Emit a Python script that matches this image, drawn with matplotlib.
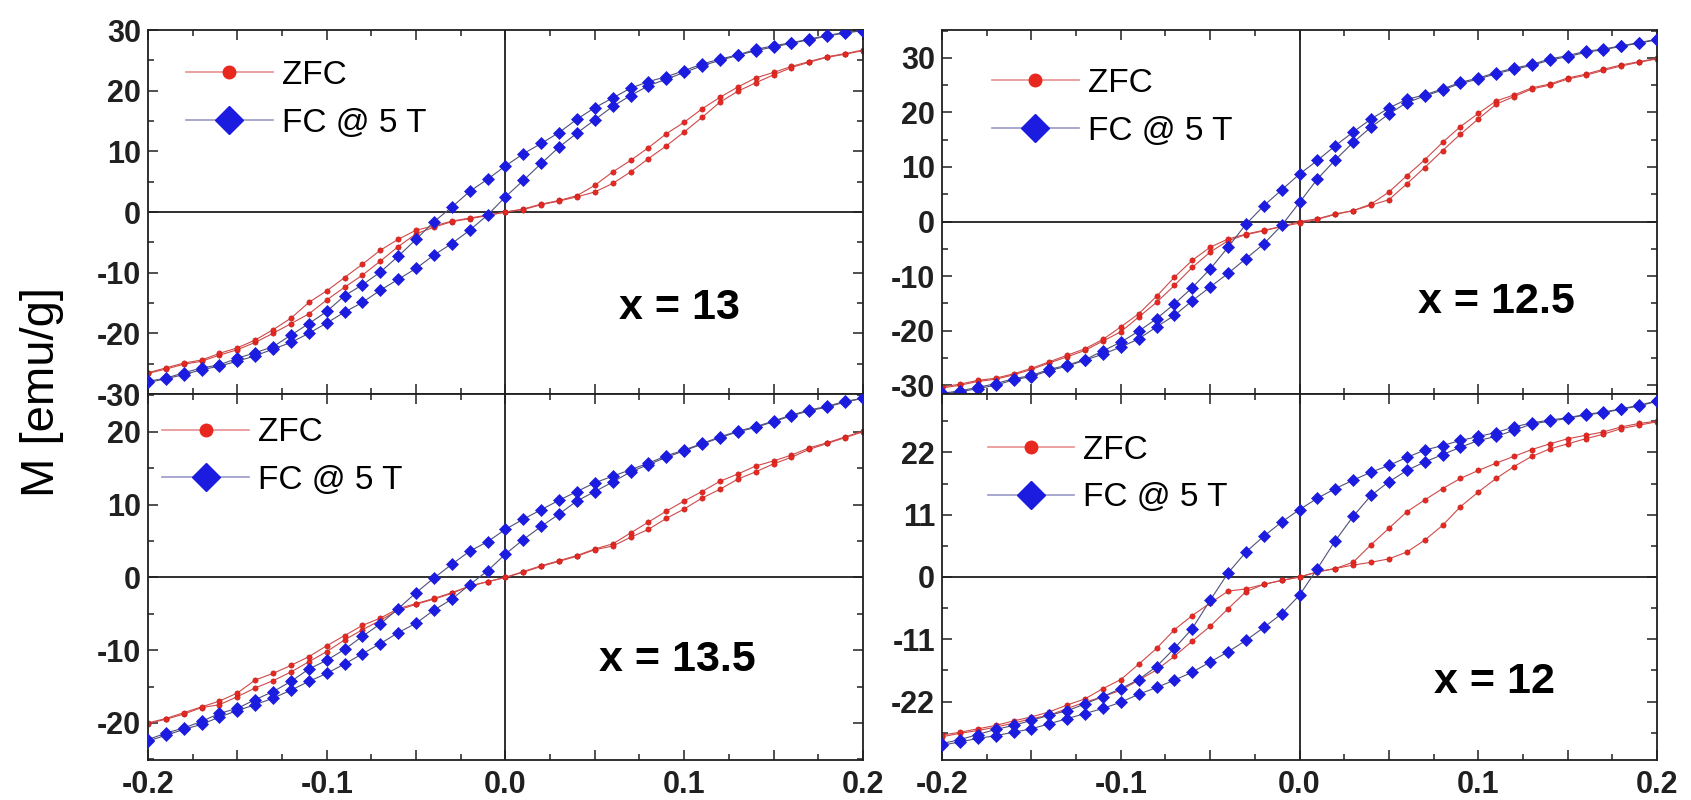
import numpy as np
import matplotlib
matplotlib.use("Agg")
import matplotlib.pyplot as plt
from matplotlib.lines import Line2D
from matplotlib.ticker import MultipleLocator, FuncFormatter

plt.rcParams['font.family'] = ['Liberation Sans', 'DejaVu Sans']
plt.rcParams['font.weight'] = 'bold'
plt.rcParams['axes.unicode_minus'] = False

# applied field (T), 0.01 T steps
field = np.linspace(-0.2, 0.2, 41)

# x = 13
fc_down_13 = [-27.9, -27.4, -26.5, -25.7, -25.2, -24.1, -23.2, -22.2, -20.3, -18.4,
              -16.4, -13.8, -12.0, -9.9, -7.3, -4.5, -1.6, 0.8, 3.4, 5.4,
              7.6,
              9.6, 11.3, 13.1, 15.3, 17.2, 18.8, 20.4, 21.5, 22.3, 23.3,
              24.4, 25.2, 25.9, 26.8, 27.4, 27.9, 28.5, 29.1, 29.6, 29.9]
fc_up_13 = [-28.1, -27.5, -26.8, -26.0, -25.4, -24.6, -23.7, -22.6, -21.5, -20.0,
            -18.3, -16.5, -14.9, -12.9, -11.1, -9.3, -7.1, -5.2, -3.0, -0.5,
            2.5,
            5.2, 8.0, 10.7, 13.0, 15.2, 17.4, 19.2, 20.8, 21.9, 23.0,
            24.1, 25.0, 25.8, 26.6, 27.2, 27.8, 28.4, 29.0, 29.5, 29.9]
zfc_down_13 = [-26.6, -25.9, -25.1, -24.6, -23.6, -22.7, -21.5, -20.0, -18.4, -16.8,
               -14.5, -12.4, -10.4, -8.1, -5.7, -3.6, -2.5, -1.6, -1.1, -0.6,
               0.0,
               0.5, 1.3, 1.9, 2.7, 4.4, 6.6, 8.5, 10.6, 12.9, 14.8,
               17.0, 18.9, 20.6, 22.1, 23.0, 24.0, 24.8, 25.6, 26.1, 26.7]
zfc_up_13 = [-26.5, -25.7, -24.9, -24.4, -23.3, -22.4, -21.1, -19.4, -17.5, -14.9,
             -13.0, -10.8, -8.6, -6.3, -4.5, -3.0, -2.3, -1.5, -1.0, -0.5,
             0.0,
             0.4, 1.2, 1.8, 2.5, 3.3, 4.7, 6.6, 8.8, 10.9, 13.2,
             15.6, 18.1, 19.9, 21.3, 22.6, 23.8, 24.7, 25.5, 26.0, 26.6]

# x = 12.5
fc_down_125 = [-31.5, -31.0, -30.4, -29.7, -28.8, -28.2, -27.1, -26.3, -25.3, -23.7,
               -22.1, -20.1, -17.8, -15.1, -12.1, -8.7, -4.7, -0.5, 2.9, 5.8,
               8.7,
               11.2, 13.9, 16.4, 18.8, 20.8, 22.4, 23.2, 24.3, 25.5, 26.3,
               27.3, 28.1, 28.8, 29.8, 30.4, 31.2, 31.6, 32.2, 32.8, 33.4]
fc_up_125 = [-31.6, -31.2, -30.6, -30.0, -29.0, -28.4, -27.3, -26.5, -25.4, -24.3,
             -23.0, -21.5, -19.3, -17.2, -14.5, -12.0, -9.5, -6.8, -4.1, -0.7,
             3.5,
             7.8, 11.3, 14.5, 17.3, 19.7, 21.8, 23.0, 24.1, 25.3, 26.1,
             27.1, 27.9, 28.6, 29.6, 30.2, 31.0, 31.5, 32.1, 32.7, 33.3]
zfc_down_125 = [-30.5, -30.0, -29.3, -28.9, -28.1, -27.1, -25.9, -24.8, -23.6, -21.9,
                -20.2, -17.5, -14.8, -11.7, -8.4, -5.6, -3.5, -2.4, -1.7, -0.9,
                0.0,
                0.5, 1.4, 2.0, 3.2, 5.4, 8.4, 11.3, 14.5, 17.4, 19.8,
                22.1, 23.2, 24.5, 25.2, 26.3, 27.0, 27.9, 28.7, 29.3, 29.9]
zfc_up_125 = [-30.3, -29.8, -29.1, -28.7, -27.9, -26.9, -25.7, -24.5, -23.3, -21.6,
              -19.3, -16.9, -13.7, -10.2, -7.1, -4.7, -3.2, -2.3, -1.6, -0.9,
              -0.3,
              0.4, 1.3, 2.0, 3.0, 4.0, 6.9, 9.9, 13.0, 16.0, 18.8,
              21.5, 22.9, 24.3, 25.0, 26.1, 26.8, 27.7, 28.5, 29.2, 29.8]

# x = 13.5
fc_down_135 = [-22.3, -21.4, -20.7, -19.8, -18.7, -18.0, -16.8, -15.7, -14.3, -12.6,
               -11.4, -9.9, -8.1, -6.4, -4.3, -2.1, -0.1, 1.8, 3.6, 4.9,
               6.6,
               8.0, 9.3, 10.6, 11.8, 13.0, 13.9, 14.8, 15.7, 16.7, 17.5,
               18.4, 19.3, 20.1, 20.7, 21.5, 22.3, 23.0, 23.5, 24.2, 24.6]
fc_up_135 = [-22.5, -21.7, -20.9, -20.2, -19.2, -18.3, -17.5, -16.6, -15.5, -14.3,
             -13.2, -11.9, -10.5, -9.1, -7.6, -6.3, -4.5, -3.0, -1.0, 0.9,
             3.2,
             5.2, 7.0, 8.7, 10.5, 11.8, 13.1, 14.5, 15.5, 16.5, 17.4,
             18.3, 19.2, 20.0, 20.6, 21.4, 22.2, 22.9, 23.4, 24.1, 24.6]
zfc_down_135 = [-20.1, -19.5, -18.8, -17.9, -17.5, -16.4, -15.2, -14.2, -13.0, -11.6,
                -10.2, -8.6, -7.2, -5.9, -4.5, -3.7, -3.0, -2.2, -1.2, -0.6,
                0.0,
                0.8, 1.6, 2.3, 3.0, 3.9, 4.6, 6.1, 7.6, 9.1, 10.5,
                11.8, 13.2, 14.2, 15.3, 16.0, 16.8, 17.8, 18.5, 19.3, 20.1]
zfc_up_135 = [-20.0, -19.4, -18.6, -17.8, -17.0, -15.9, -14.1, -13.2, -12.1, -10.9,
              -9.4, -8.0, -6.6, -5.6, -4.3, -3.6, -2.9, -2.1, -1.2, -0.6,
              0.0,
              0.7, 1.5, 2.2, 2.9, 3.8, 4.3, 5.5, 6.6, 8.1, 9.4,
              10.9, 12.1, 13.5, 14.5, 15.6, 16.5, 17.6, 18.4, 19.2, 20.0]

# x = 12
fc_down_12 = [-29.4, -28.7, -27.8, -26.9, -26.2, -25.3, -24.4, -23.6, -22.4, -21.1,
              -19.7, -18.1, -15.8, -12.6, -9.1, -4.1, 0.7, 4.4, 7.2, 9.7,
              11.9,
              13.9, 15.6, 17.1, 18.5, 19.7, 21.1, 22.4, 23.2, 24.1, 24.8,
              25.5, 26.5, 27.2, 27.7, 28.1, 28.7, 29.1, 29.7, 30.3, 31.1]
fc_up_12 = [-29.7, -29.1, -28.5, -28.0, -27.4, -26.8, -25.9, -25.0, -24.1, -23.2,
            -22.1, -20.7, -19.5, -18.2, -16.8, -15.0, -13.2, -11.2, -8.9, -6.5,
            -3.2,
            1.5, 6.4, 10.7, 14.4, 16.8, 18.8, 20.3, 21.6, 22.9, 24.1,
            24.8, 25.9, 27.0, 27.5, 28.0, 28.6, 29.0, 29.6, 30.2, 31.0]
zfc_down_12 = [-28.2, -27.6, -27.1, -26.5, -25.8, -25.0, -24.4, -23.2, -22.1, -21.1,
               -20.0, -18.2, -16.4, -14.0, -11.3, -8.7, -5.6, -2.6, -1.3, -0.6,
               0.0,
               0.9, 1.5, 2.6, 5.7, 8.6, 11.5, 13.6, 15.6, 17.4, 18.8,
               20.1, 21.3, 22.5, 23.5, 24.4, 25.0, 25.6, 26.5, 27.1, 27.5]
zfc_up_12 = [-27.9, -27.4, -26.8, -26.2, -25.4, -24.7, -23.8, -22.6, -21.5, -19.7,
             -18.1, -15.4, -12.6, -9.3, -6.8, -4.6, -2.5, -2.1, -1.3, -0.6,
             0.0,
             0.9, 1.5, 2.1, 2.6, 3.2, 4.4, 6.5, 9.1, 12.4, 15.0,
             17.4, 19.5, 21.3, 22.6, 23.5, 24.4, 25.2, 26.2, 26.8, 27.4]

labels = ['x = 13', 'x = 12.5', 'x = 13.5', 'x = 12']

RED = '#e8281e'
BLUE = '#1c1ce0'

fig = plt.figure(figsize=(16.91, 8.0), dpi=100)

# left, bottom, width, height in figure fraction
w = 0.4228
boxes = [(0.0875, 0.5075, w, 0.455), (0.5571, 0.5075, w, 0.455),
         (0.0875, 0.05, w, 0.4575), (0.5571, 0.05, w, 0.4575)]
ylims = [(-30, 30), (-31.6, 35.1), (-25.1, 25.2), (-32.3, 32.3)]
ymajor = [10, 10, 10, 11]
yminor = [5, 5, 5, 5.5]
text_pos = [(0.744, 0.236), (0.775, 0.253), (0.741, 0.273), (0.772, 0.213)]
legend_pos = [(0.053, 0.918), (0.07, 0.896), (0.02, 0.936), (0.064, 0.889)]
data = [(zfc_down_13, zfc_up_13, fc_down_13, fc_up_13),
        (zfc_down_125, zfc_up_125, fc_down_125, fc_up_125),
        (zfc_down_135, zfc_up_135, fc_down_135, fc_up_135),
        (zfc_down_12, zfc_up_12, fc_down_12, fc_up_12)]


def xfmt(v, pos):
    k = v / 0.1
    if abs(k - round(k)) > 1e-6:
        return ''
    if abs(v) < 1e-9:
        return '0.0'
    return f'{v:.1f}'


for i, ax_box in enumerate(boxes):
    ax = fig.add_axes(ax_box)
    zd, zu, fd, fu = data[i]

    ax.axhline(0, color='#202020', lw=1.3, zorder=1)
    ax.axvline(0, color='#202020', lw=1.3, zorder=1)

    for vals in (zd, zu):
        ax.plot(field, vals, color='#d04848', lw=0.8, marker='o', ms=3.8,
                mfc=RED, mec='#b82020', mew=0.4, zorder=2)
    for vals in (fd, fu):
        ax.plot(field, vals, color='#505078', lw=0.8, marker='D', ms=6.2,
                mfc=BLUE, mec=BLUE, mew=0.5, zorder=3)

    ax.set_xlim(-0.2, 0.2)
    ax.set_ylim(*ylims[i])
    ax.xaxis.set_major_locator(MultipleLocator(0.05))
    ax.xaxis.set_minor_locator(MultipleLocator(0.025))
    ax.xaxis.set_major_formatter(FuncFormatter(xfmt))
    ax.yaxis.set_major_locator(MultipleLocator(ymajor[i]))
    ax.yaxis.set_minor_locator(MultipleLocator(yminor[i]))
    ax.tick_params(which='both', direction='in', top=True, right=True,
                   width=1.1, colors='#202020', labelsize=22)
    ax.tick_params(which='major', length=7, pad=5)
    ax.tick_params(which='minor', length=4)
    ax.tick_params(axis='x', pad=7)
    if i < 2:
        ax.tick_params(axis='x', labelbottom=False)
    for sp in ax.spines.values():
        sp.set_linewidth(1.3)
        sp.set_color('#202020')

    ax.text(*text_pos[i], labels[i], transform=ax.transAxes, ha='center',
            va='center', fontsize=31, fontweight='bold')

    handles = [Line2D([], [], color='#e89090', lw=1.2, marker='o', ms=9,
                      mfc=RED, mec=RED),
               Line2D([], [], color='#9898c8', lw=1.2, marker='D', ms=14.5,
                      mfc=BLUE, mec=BLUE)]
    ax.legend(handles, ['ZFC', 'FC @ 5 T'], loc='upper left',
              bbox_to_anchor=legend_pos[i], frameon=False,
              prop={'size': 24, 'weight': 'normal'}, handlelength=2.6,
              handletextpad=0.27, labelspacing=0.5, borderpad=0,
              borderaxespad=0)

fig.text(0.025, 0.51, 'M [emu/g]', rotation=90, ha='center', va='center',
         fontsize=34, fontweight='normal')

fig.savefig('out.png', dpi=100, facecolor='white')
